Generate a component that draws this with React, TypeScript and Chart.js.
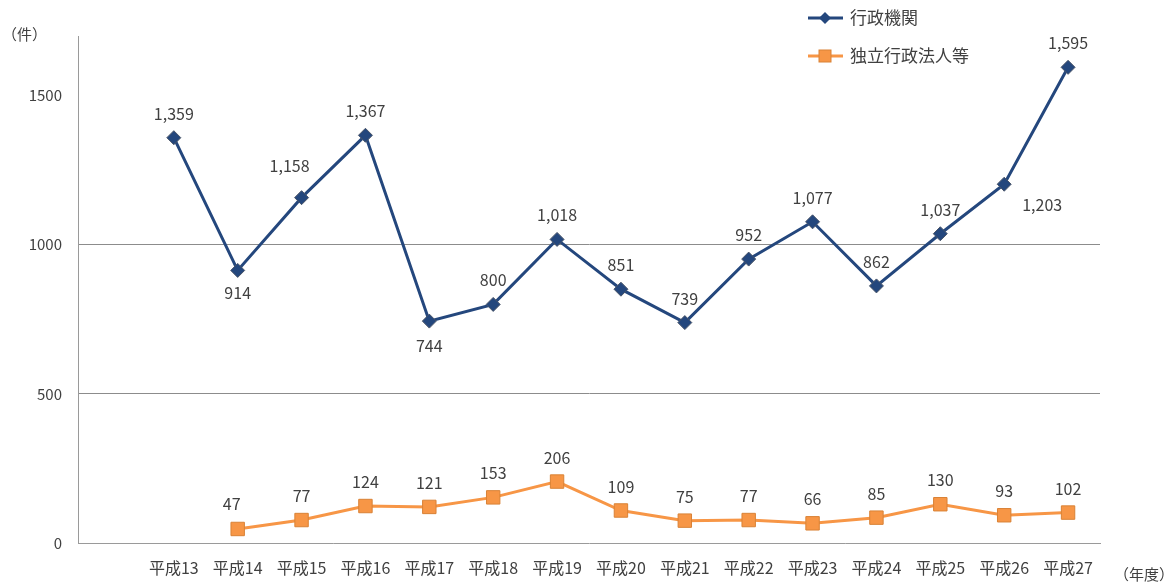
import React, { useEffect, useRef } from "react";
import { Chart, registerables } from "chart.js";

Chart.register(...registerables);

const categories = ["", "平成13", "平成14", "平成15", "平成16", "平成17", "平成18", "平成19", "平成20", "平成21", "平成22", "平成23", "平成24", "平成25", "平成26", "平成27"];
const gyoseiKikan: (number | null)[] = [null, 1359, 914, 1158, 1367, 744, 800, 1018, 851, 739, 952, 1077, 862, 1037, 1203, 1595];
const dokuritsu: (number | null)[] = [null, null, 47, 77, 124, 121, 153, 206, 109, 75, 77, 66, 85, 130, 93, 102];
const seriesNames = ["行政機関", "独立行政法人等"];
const yTicks = [0, 500, 1000, 1500];

const BLUE = "#24477D";
const ORANGE = "#F79646";
const TEXT = "#404040";
const FONT = "'Noto Sans CJK JP', 'Noto Sans', sans-serif";

// label offsets (dx, dy) relative to the point, by series and index
const labelOffsets: Record<string, [number, number]>[] = [
  { "2": [0, 23], "3": [-12, -32], "5": [0, 25], "14": [38, 21] },
  { "2": [-6, -25] },
];

const fmt = (v: number) => v.toLocaleString("en-US");

const labelsPlugin = {
  id: "pointLabels",
  afterDatasetsDraw(chart: any) {
    const ctx = chart.ctx;
    ctx.save();
    ctx.font = `16px ${FONT}`;
    ctx.fillStyle = TEXT;
    ctx.textAlign = "center";
    ctx.textBaseline = "middle";
    chart.data.datasets.forEach((ds: any, di: number) => {
      const meta = chart.getDatasetMeta(di);
      meta.data.forEach((el: any, i: number) => {
        const v = ds.data[i];
        if (v === null || v === undefined) return;
        const off = labelOffsets[di][String(i)] || [0, -24];
        ctx.fillText(fmt(v), el.x + off[0], el.y + off[1]);
      });
    });
    ctx.restore();
  },
};

const extrasPlugin = {
  id: "extras",
  afterDraw(chart: any) {
    const ctx = chart.ctx;
    ctx.save();
    ctx.font = `15px ${FONT}`;
    ctx.fillStyle = TEXT;
    ctx.textBaseline = "middle";
    ctx.textAlign = "left";
    ctx.fillText("（件）", 2, 34);
    ctx.fillText("（年度）", 1114, 574);
    // legend
    const items = [
      { y: 18, color: BLUE, style: "rectRot" },
      { y: 56, color: ORANGE, style: "rect" },
    ];
    items.forEach((it, k) => {
      ctx.strokeStyle = it.color;
      ctx.lineWidth = 3;
      ctx.beginPath();
      ctx.moveTo(808, it.y);
      ctx.lineTo(843, it.y);
      ctx.stroke();
      ctx.fillStyle = it.color;
      ctx.strokeStyle = "#d98236";
      ctx.lineWidth = 1;
      if (it.style === "rect") {
        ctx.fillRect(819, it.y - 6, 12, 12);
        ctx.strokeRect(819, it.y - 6, 12, 12);
      } else {
        ctx.beginPath();
        ctx.moveTo(825, it.y - 6);
        ctx.lineTo(831, it.y);
        ctx.lineTo(825, it.y + 6);
        ctx.lineTo(819, it.y);
        ctx.closePath();
        ctx.fill();
      }
      ctx.fillStyle = TEXT;
      ctx.font = `17px ${FONT}`;
      ctx.fillText(seriesNames[k], 850, it.y);
    });
    ctx.restore();
  },
};

export default function App() {
  const ref = useRef<HTMLCanvasElement | null>(null);
  useEffect(() => {
    document.body.style.margin = "0";
    if (!ref.current) return;
    const chart = new Chart(ref.current, {
      type: "line",
      data: {
        labels: categories,
        datasets: [
          {
            label: seriesNames[0],
            data: gyoseiKikan,
            borderColor: BLUE,
            backgroundColor: BLUE,
            borderWidth: 3,
            pointStyle: "rectRot",
            pointRadius: 7,
            pointBorderColor: "#4a5568",
            pointBorderWidth: 1,
            tension: 0,
          },
          {
            label: seriesNames[1],
            data: dokuritsu,
            borderColor: ORANGE,
            backgroundColor: ORANGE,
            borderWidth: 3,
            pointStyle: "rect",
            pointRadius: 9.5,
            pointBorderColor: "#d98236",
            pointBorderWidth: 1,
            tension: 0,
          },
        ],
      },
      options: {
        responsive: false,
        animation: false,
        layout: { padding: { left: 0, top: 36, right: 76, bottom: 0 } },
        plugins: { legend: { display: false }, tooltip: { enabled: false } },
        scales: {
          x: {
            offset: true,
            grid: { display: false },
            border: { display: true, color: "#9a9a9a", width: 1 },
            ticks: { color: TEXT, font: { size: 16, family: FONT }, maxRotation: 0, autoSkip: false, padding: 7 },
            afterFit: (s: any) => {
              s.height = 41;
            },
          },
          y: {
            min: 0,
            max: 1700,
            grid: {
              color: (c: any) => (c.tick && (c.tick.value === 500 || c.tick.value === 1000) ? "#8c8c8c" : "rgba(0,0,0,0)"),
              drawTicks: false,
            },
            border: { display: true, color: "#9a9a9a", width: 1 },
            ticks: { color: TEXT, font: { size: 15, family: FONT }, padding: 16, callback: (v: any) => String(v) },
            afterBuildTicks: (s: any) => {
              s.ticks = yTicks.map((v) => ({ value: v }));
            },
            afterFit: (s: any) => {
              s.width = 78;
            },
          },
        },
      },
      plugins: [labelsPlugin, extrasPlugin],
    });
    return () => chart.destroy();
  }, []);
  return <canvas ref={ref} width={1176} height={584} style={{ display: "block" }} />;
}
